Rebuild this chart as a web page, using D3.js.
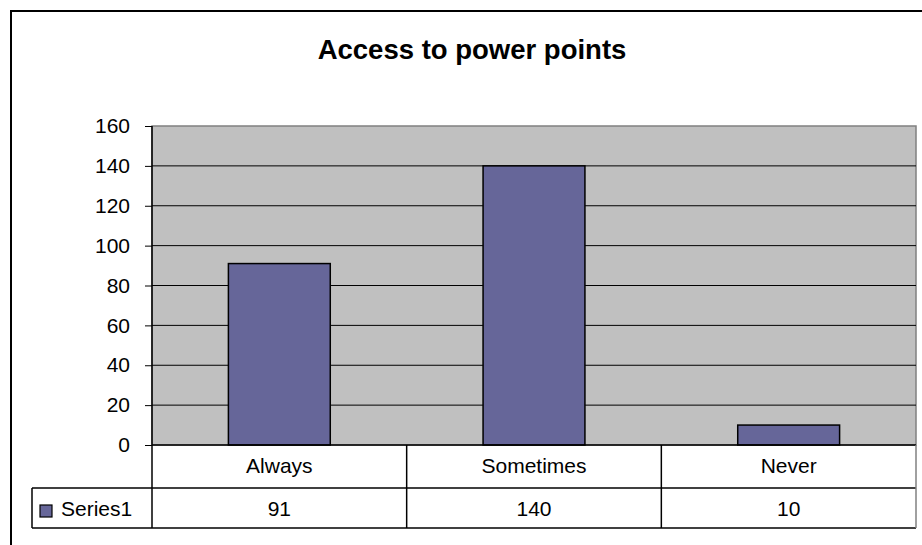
<!DOCTYPE html>
<html>
<head>
<meta charset="utf-8">
<script src="https://cdn.jsdelivr.net/npm/d3@7"></script>
<style>
  body { margin: 0; background: #fff; }
  svg { display: block; font-family: Arial, "Liberation Sans", sans-serif; }
</style>
</head>
<body>
<svg width="922" height="545"></svg>
<script>
// Code goes here

var title = "Access to power points";
var categories = ["Always", "Sometimes", "Never"];
var values = [91, 140, 10];
var seriesName = "Series1";
var yTicks = [0, 20, 40, 60, 80, 100, 120, 140, 160];

window.onload = () => {

  var svg = d3.select("svg");

  var plot = { left: 152, right: 916, top: 126, bottom: 445 };
  var table = { left: 32, rowMid: 488, bottom: 528 };
  var barColor = "#666699";

  //###############################################
  // Frame + title
  //###############################################

  svg.append("path")
      .attr("d", "M11,545 L11,11 L922,11")
      .attr("fill", "none")
      .attr("stroke", "#000")
      .attr("stroke-width", 2);

  svg.append("text")
      .attr("x", 472)
      .attr("y", 59)
      .attr("text-anchor", "middle")
      .attr("font-size", 27.5)
      .attr("font-weight", "bold")
      .text(title);

  //###############################################
  // Scales
  //###############################################

  var y = d3.scaleLinear().domain([0, 160]).range([plot.bottom, plot.top]);

  var x = d3.scaleBand()
      .domain(categories)
      .range([plot.left, plot.right])
      .paddingInner(0.6)
      .paddingOuter(0.3);

  var col = d3.scaleBand()
      .domain(categories)
      .range([plot.left, plot.right]);

  //###############################################
  // Plot area
  //###############################################

  svg.append("rect")
      .attr("x", plot.left)
      .attr("y", plot.top)
      .attr("width", plot.right - plot.left)
      .attr("height", plot.bottom - plot.top)
      .attr("fill", "#c0c0c0")
      .attr("stroke", "#808080")
      .attr("stroke-width", 1.5);

  svg.append("g")
    .selectAll("line")
    .data(yTicks.filter(function(d) { return d > 0 && d < 160; }))
    .enter().append("line")
      .attr("x1", plot.left)
      .attr("x2", plot.right)
      .attr("y1", function(d) { return y(d); })
      .attr("y2", function(d) { return y(d); })
      .attr("stroke", "#000")
      .attr("stroke-width", 1);

  svg.append("g")
    .selectAll("rect")
    .data(values)
    .enter().append("rect")
      .attr("x", function(d, i) { return x(categories[i]); })
      .attr("y", function(d) { return y(d); })
      .attr("width", x.bandwidth())
      .attr("height", function(d) { return y(0) - y(d); })
      .attr("fill", barColor)
      .attr("stroke", "#000")
      .attr("stroke-width", 1.5);

  // y axis
  var yAxis = svg.append("g")
      .attr("transform", "translate(" + plot.left + ",0)")
      .call(d3.axisLeft(y).tickValues(yTicks).tickSize(7).tickPadding(15).tickSizeOuter(0));
  yAxis.select(".domain").remove();
  yAxis.selectAll("line").attr("stroke", "#000");
  yAxis.selectAll("text")
      .attr("font-family", "Arial, 'Liberation Sans', sans-serif")
      .attr("font-size", 21)
      .attr("fill", "#000");

  //###############################################
  // Data table
  //###############################################

  var lines = svg.append("g").attr("stroke", "#000").attr("stroke-width", 1.5);

  lines.append("line")
      .attr("x1", plot.left).attr("x2", plot.left)
      .attr("y1", plot.top).attr("y2", table.bottom);
  lines.append("line")
      .attr("x1", plot.left).attr("x2", plot.right)
      .attr("y1", plot.bottom).attr("y2", plot.bottom);
  lines.append("line")
      .attr("x1", table.left).attr("x2", plot.right)
      .attr("y1", table.rowMid).attr("y2", table.rowMid);
  lines.append("line")
      .attr("x1", table.left).attr("x2", plot.right)
      .attr("y1", table.bottom).attr("y2", table.bottom);
  lines.append("line")
      .attr("x1", table.left).attr("x2", table.left)
      .attr("y1", table.rowMid).attr("y2", table.bottom);

  lines.selectAll("line.sep")
    .data(categories.slice(1))
    .enter().append("line")
      .attr("class", "sep")
      .attr("x1", function(d) { return col(d); })
      .attr("x2", function(d) { return col(d); })
      .attr("y1", plot.bottom)
      .attr("y2", table.bottom);

  lines.append("line")
      .attr("x1", plot.right).attr("x2", plot.right)
      .attr("y1", plot.bottom).attr("y2", table.bottom)
      .attr("stroke", "#808080");

  svg.append("g")
    .selectAll("text")
    .data(categories)
    .enter().append("text")
      .attr("x", function(d) { return col(d) + col.bandwidth() / 2; })
      .attr("y", 473)
      .attr("text-anchor", "middle")
      .attr("font-size", 21)
      .text(function(d) { return d; });

  svg.append("g")
    .selectAll("text")
    .data(values)
    .enter().append("text")
      .attr("x", function(d, i) { return col(categories[i]) + col.bandwidth() / 2; })
      .attr("y", 516)
      .attr("text-anchor", "middle")
      .attr("font-size", 21)
      .text(function(d) { return d; });

  // legend key
  svg.append("rect")
      .attr("x", 40)
      .attr("y", 505)
      .attr("width", 12)
      .attr("height", 12)
      .attr("fill", barColor)
      .attr("stroke", "#000")
      .attr("stroke-width", 1.2);

  svg.append("text")
      .attr("x", 61)
      .attr("y", 516)
      .attr("font-size", 21)
      .text(seriesName);

}
</script>
</body>
</html>
